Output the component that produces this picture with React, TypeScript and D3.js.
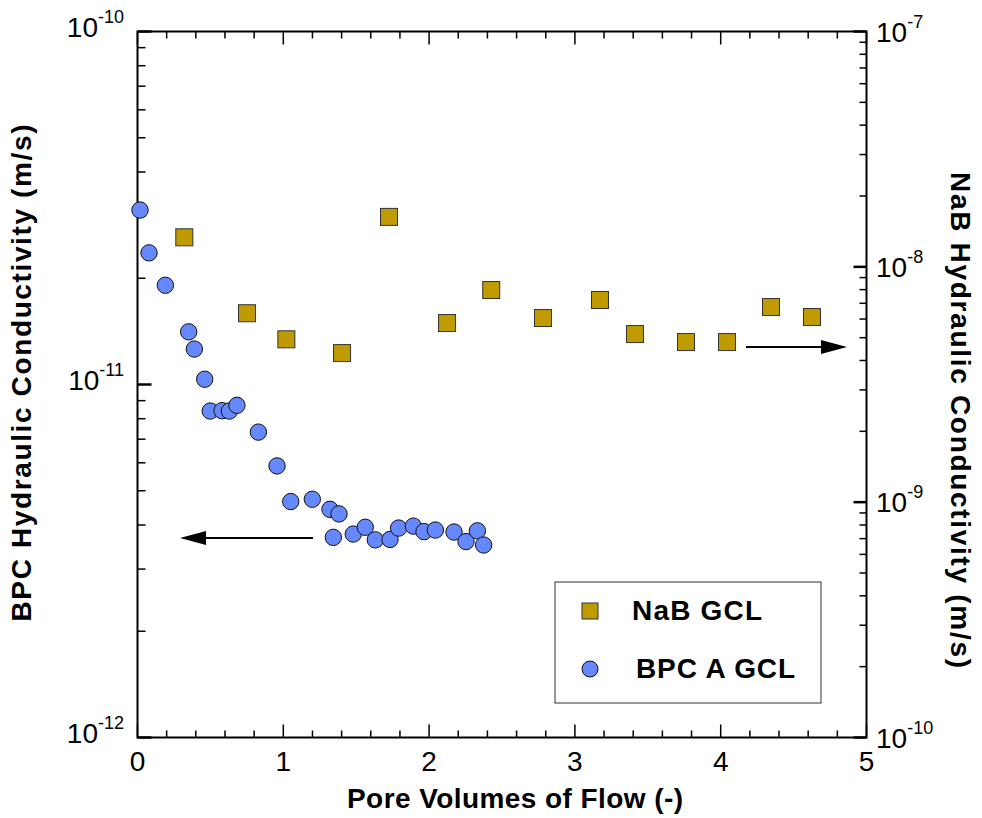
import React from "react";
import * as d3 from "d3";

const bpcX = [0.017, 0.079, 0.191, 0.351, 0.39, 0.461, 0.499, 0.58, 0.63, 0.682, 0.829, 0.957, 1.051, 1.199, 1.32, 1.382, 1.343, 1.48, 1.562, 1.631, 1.732, 1.791, 1.892, 1.965, 2.043, 2.171, 2.253, 2.331, 2.374];
const bpcK = [3.12e-11, 2.36e-11, 1.91e-11, 1.41e-11, 1.26e-11, 1.035e-11, 8.41e-12, 8.43e-12, 8.41e-12, 8.73e-12, 7.33e-12, 5.88e-12, 4.66e-12, 4.73e-12, 4.43e-12, 4.3e-12, 3.69e-12, 3.77e-12, 3.94e-12, 3.63e-12, 3.64e-12, 3.92e-12, 3.97e-12, 3.83e-12, 3.87e-12, 3.82e-12, 3.59e-12, 3.85e-12, 3.51e-12];

const nabX = [0.321, 0.751, 1.021, 1.403, 1.725, 2.123, 2.426, 2.781, 3.172, 3.412, 3.762, 4.043, 4.345, 4.626];
const nabK = [1.335e-8, 6.35e-9, 4.92e-9, 4.3e-9, 1.63e-8, 5.77e-9, 7.97e-9, 6.06e-9, 7.23e-9, 5.18e-9, 4.79e-9, 4.79e-9, 6.75e-9, 6.12e-9];

const xTicks = [0, 1, 2, 3, 4, 5];
const leftExps = [-12, -11, -10];
const rightExps = [-10, -9, -8, -7];

const FONT = "'Liberation Sans', Arial, sans-serif";
const L = 137.5, R = 866.5, T = 31.5, B = 737.5;

export default function App() {
  const x = d3.scaleLinear().domain([0, 5]).range([L, R]);
  const yL = d3.scaleLog().domain([1e-12, 1e-10]).range([B, T]);
  const yR = d3.scaleLog().domain([1e-10, 1e-7]).range([B, T]);

  const xMinor = d3.range(0, 5.001, 0.2).map((v) => +v.toFixed(1));
  const logMinor = (lo: number, hi: number) => {
    const out: number[] = [];
    for (let e = lo; e < hi; e++) for (let m = 2; m <= 9; m++) out.push(m * Math.pow(10, e));
    return out;
  };

  const sq = 17;
  return (
    <svg width={982} height={818} style={{ display: "block", position: "absolute", left: 0, top: 0 }} fontFamily={FONT}>
      <rect x={0} y={0} width={982} height={818} fill="white" />
      {/* x ticks top & bottom */}
      {xMinor.map((v, i) => {
        const major = Math.abs(v - Math.round(v)) < 1e-6;
        const len = major ? 13 : 7;
        return (
          <g key={"xt" + i}>
            <line x1={x(v)} x2={x(v)} y1={B} y2={B - len} stroke="black" strokeWidth={1.5} />
            <line x1={x(v)} x2={x(v)} y1={T} y2={T + len} stroke="black" strokeWidth={1.5} />
          </g>
        );
      })}
      {/* left ticks */}
      {logMinor(-12, -10).map((v, i) => (
        <line key={"lm" + i} x1={L} x2={L + 8} y1={yL(v)} y2={yL(v)} stroke="black" strokeWidth={1.5} />
      ))}
      {leftExps.map((e) => (
        <line key={"lM" + e} x1={L} x2={L + 14} y1={yL(Math.pow(10, e))} y2={yL(Math.pow(10, e))} stroke="black" strokeWidth={2.5} />
      ))}
      {/* right ticks */}
      {logMinor(-10, -7).map((v, i) => (
        <line key={"rm" + i} x1={R} x2={R - 7} y1={yR(v)} y2={yR(v)} stroke="black" strokeWidth={1.5} />
      ))}
      {rightExps.map((e) => (
        <line key={"rM" + e} x1={R} x2={R - 13} y1={yR(Math.pow(10, e))} y2={yR(Math.pow(10, e))} stroke="black" strokeWidth={2.5} />
      ))}
      {/* frame */}
      <rect x={L} y={T} width={R - L} height={B - T} fill="none" stroke="black" strokeWidth={2} />

      {/* x tick labels */}
      {xTicks.map((v) => (
        <text key={"xl" + v} x={x(v)} y={771} textAnchor="middle" fontSize={28}>{v}</text>
      ))}
      {/* left tick labels */}
      {leftExps.map((e) => (
        <text key={"ll" + e} x={124} y={yL(Math.pow(10, e)) + 5.5} textAnchor="end" fontSize={28}>
          10<tspan dy={-14} fontSize={18}>{e}</tspan>
        </text>
      ))}
      {/* right tick labels */}
      {rightExps.map((e) => (
        <text key={"rl" + e} x={876} y={yR(Math.pow(10, e)) + 10} textAnchor="start" fontSize={28}>
          10<tspan dy={-14} fontSize={18}>{e}</tspan>
        </text>
      ))}

      {/* axis titles */}
      <text x={515} y={808} textAnchor="middle" fontSize={28} fontWeight="bold" textLength={336} lengthAdjust="spacing">Pore Volumes of Flow (-)</text>
      <text transform={`translate(31,373) rotate(-90)`} textAnchor="middle" fontSize={28} fontWeight="bold" textLength={497} lengthAdjust="spacing">BPC Hydraulic Conductivity (m/s)</text>
      <text transform={`translate(951,420) rotate(90)`} textAnchor="middle" fontSize={28} fontWeight="bold" textLength={496} lengthAdjust="spacing">NaB Hydraulic Conductivity (m/s)</text>

      {/* arrows */}
      <line x1={313} x2={196} y1={538} y2={538} stroke="black" strokeWidth={2} />
      <path d="M180,538 L206,531 L206,545 Z" fill="black" />
      <line x1={746} x2={825} y1={347} y2={347} stroke="black" strokeWidth={2} />
      <path d="M847,347 L821,340 L821,354 Z" fill="black" />

      {/* NaB squares */}
      {nabX.map((v, i) => (
        <rect key={"s" + i} x={x(v) - sq / 2} y={yR(nabK[i]) - sq / 2} width={sq} height={sq} fill="#BF9B00" stroke="#333" strokeWidth={1} />
      ))}
      {/* BPC circles */}
      {bpcX.map((v, i) => (
        <circle key={"c" + i} cx={x(v)} cy={yL(bpcK[i])} r={8.2} fill="#6688FF" stroke="#111" strokeWidth={1} />
      ))}

      {/* legend */}
      <rect x={555} y={582} width={266} height={121} fill="white" stroke="#333" strokeWidth={1} />
      <rect x={590 - 8} y={611 - 8} width={16} height={16} fill="#BF9B00" stroke="#333" strokeWidth={1} />
      <text x={632} y={620} fontSize={28} fontWeight="bold" textLength={130} lengthAdjust="spacing">NaB GCL</text>
      <circle cx={590} cy={669} r={8} fill="#6688FF" stroke="#111" strokeWidth={1} />
      <text x={636} y={678} fontSize={28} fontWeight="bold" textLength={159} lengthAdjust="spacing">BPC A GCL</text>
    </svg>
  );
}
